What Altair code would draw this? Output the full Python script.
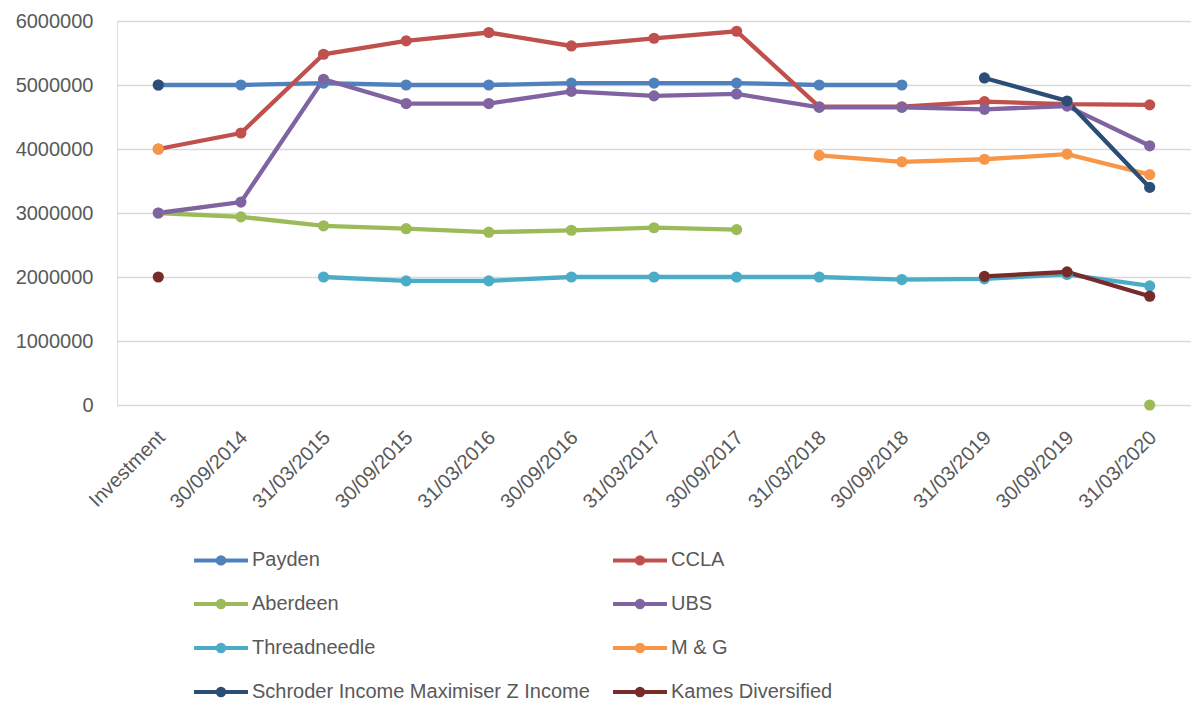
import altair as alt
import pandas as pd

categories = ["Investment", "30/09/2014", "31/03/2015", "30/09/2015", "31/03/2016",
              "30/09/2016", "31/03/2017", "30/09/2017", "31/03/2018", "30/09/2018",
              "31/03/2019", "30/09/2019", "31/03/2020"]

series_names = ["Payden", "CCLA", "Aberdeen", "UBS", "Threadneedle", "M & G",
                "Schroder Income Maximiser Z Income", "Kames Diversified"]

series_colors = ["#4F81BD", "#C0504D", "#9BBB59", "#8064A2", "#4BACC6", "#F79646",
                 "#2C4D75", "#772C2A"]

payden = [5000000, 5000000, 5030000, 5000000, 5000000, 5030000, 5030000, 5030000,
          5000000, 5000000, None, None, None]
ccla = [4000000, 4250000, 5480000, 5690000, 5820000, 5610000, 5730000, 5840000,
        4660000, 4660000, 4740000, 4700000, 4690000]
aberdeen = [3000000, 2940000, 2800000, 2755000, 2700000, 2730000, 2770000, 2740000,
            None, None, None, None, 0]
ubs = [3000000, 3170000, 5090000, 4710000, 4710000, 4900000, 4830000, 4860000,
       4650000, 4650000, 4620000, 4670000, 4050000]
threadneedle = [None, None, 2000000, 1940000, 1940000, 2000000, 2000000, 2000000,
                2000000, 1960000, 1970000, 2040000, 1860000]
m_and_g = [4000000, None, None, None, None, None, None, None,
           3900000, 3800000, 3840000, 3920000, 3600000]
schroder = [5000000, None, None, None, None, None, None, None,
            None, None, 5110000, 4750000, 3400000]
kames = [2000000, None, None, None, None, None, None, None,
         None, None, 2010000, 2080000, 1700000]

y_ticks = [0, 1000000, 2000000, 3000000, 4000000, 5000000, 6000000]

all_series = [payden, ccla, aberdeen, ubs, threadneedle, m_and_g, schroder, kames]

rows = []
for name, vals in zip(series_names, all_series):
    for cat, v in zip(categories, vals):
        rows.append({"Series": name, "Date": cat, "Value": v})
df = pd.DataFrame(rows)

FONT = "Liberation Sans"
TXT = "#595959"

legend_path = ("M-1,0H1"
               "M-0.12,0A0.12,0.12,0,1,1,0.12,0A0.12,0.12,0,1,1,-0.12,0"
               "M-0.04,0A0.04,0.04,0,1,1,0.04,0A0.04,0.04,0,1,1,-0.04,0")

color = alt.Color(
    "Series:N",
    scale=alt.Scale(domain=series_names, range=series_colors),
    legend=alt.Legend(
        title=None,
        orient="none",
        direction="horizontal",
        legendX=75,
        legendY=510,
        columns=2,
        symbolType=legend_path,
        symbolSize=2916,
        symbolStrokeWidth=4,
        labelFontSize=20,
        labelFont=FONT,
        labelColor=TXT,
        labelOffset=2,
        columnPadding=15,
        rowPadding=3,
        padding=0,
        symbolLimit=0,
        labelLimit=0,
    ),
)

x = alt.X(
    "Date:N",
    sort=categories,
    scale=alt.Scale(domain=categories),
    axis=alt.Axis(
        title=None,
        labelAngle=-45,
        labelAlign="right",
        labelBaseline="top",
        labelPadding=22,
        labelOffset=-4,
        ticks=False,
        tickSize=0,
        domain=False,
        grid=False,
        labelFont=FONT,
        labelFontSize=20,
        labelColor=TXT,
        labelOverlap=False,
    ),
)

y = alt.Y(
    "Value:Q",
    scale=alt.Scale(domain=[0, 6000000], nice=False),
    axis=alt.Axis(
        title=None,
        values=y_ticks,
        format="d",
        ticks=False,
        tickSize=0,
        domain=False,
        grid=True,
        gridColor="#D9D9D9",
        gridWidth=1.3,
        labelPadding=24,
        labelFont=FONT,
        labelFontSize=20,
        labelColor=TXT,
    ),
)

base = alt.Chart(df)

lines = base.mark_line(strokeWidth=4.3).encode(x=x, y=y, color=color, detail="Series:N")
points = base.mark_point(filled=True, size=125, opacity=1).encode(x=x, y=y, color=color)

chart = alt.layer(lines, points).properties(
    width=1074,
    height=384,
    padding={"left": 109, "top": 13, "right": 0, "bottom": 300},
    autosize=alt.AutoSizeParams(type="none"),
).configure_view(stroke=None).configure(background="white")

chart.save("out.html", embed_options={"renderer": "svg", "actions": False})
